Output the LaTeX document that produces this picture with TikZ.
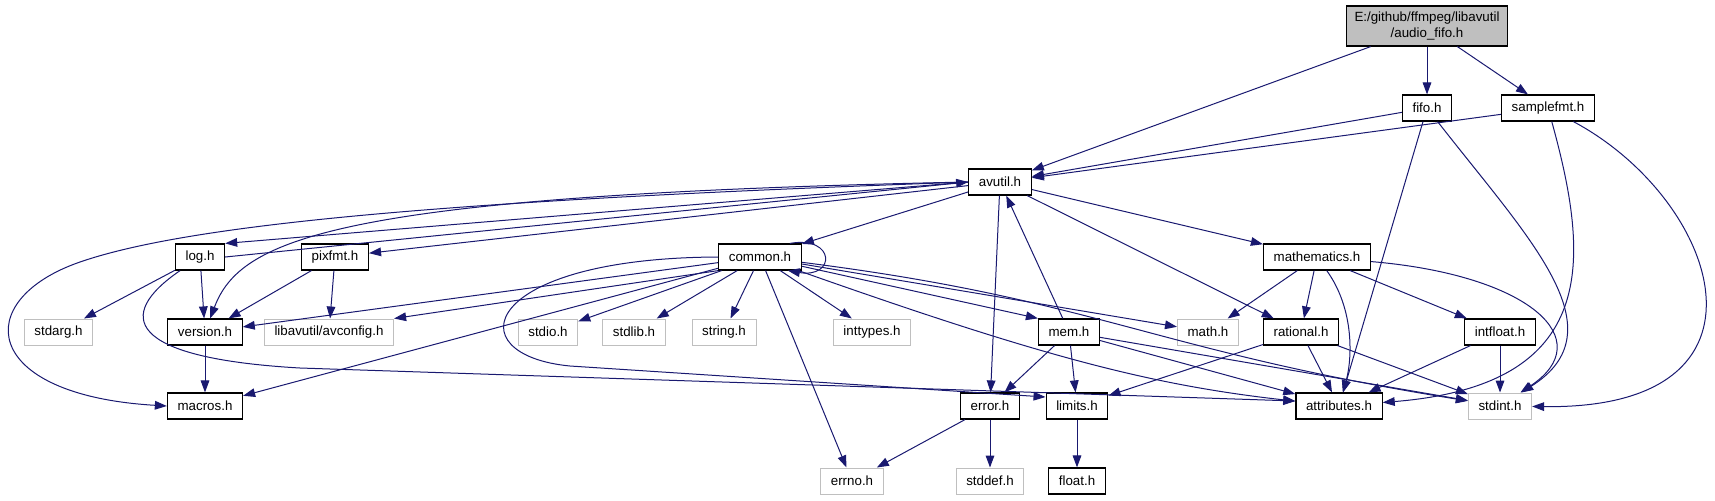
\documentclass[tikz,border=0pt]{standalone}
\usepackage{fontspec}
\setmainfont{Liberation Sans}
\usetikzlibrary{arrows.meta,calc}
\definecolor{incblue}{HTML}{191970}
\definecolor{sysgrey}{HTML}{BFBFBF}

\begin{document}
\begin{tikzpicture}[x=0.75pt,y=-0.75pt,font=\fontsize{10}{12}\selectfont,
   hdr/.style={draw=black,fill=white,line width=0.9pt,minimum height=19.5pt,
               inner xsep=7.6pt,inner ysep=2pt},
   sys/.style={hdr,draw=sysgrey,line width=0.75pt},
   inc/.style={draw=incblue,line width=0.75pt,-{Triangle[length=9pt,width=6.5pt]}}]
  \useasboundingbox (0,0) rectangle (1715,500);
  \node[hdr,fill=sysgrey,align=center,inner xsep=6pt,minimum height=30pt] (main) at (1427,26)
    {E:/github/ffmpeg/libavutil\\/audio\_fifo.h};
  \node[hdr] (fifo) at (1427,108) {fifo.h};
  \node[hdr] (samplefmt) at (1548,108) {samplefmt.h};
  \node[hdr] (avutil) at (1000,182) {avutil.h};
  \node[hdr] (log) at (200,257) {log.h};
  \node[hdr] (pixfmt) at (335,257) {pixfmt.h};
  \node[hdr] (common) at (760,257) {common.h};
  \node[hdr] (mathematics) at (1317,257) {mathematics.h};
  \node[sys] (stdarg) at (58.5,332) {stdarg.h};
  \node[hdr] (version) at (205,332) {version.h};
  \node[sys] (avconfig) at (329,332) {libavutil/avconfig.h};
  \node[sys] (stdio) at (548,332) {stdio.h};
  \node[sys] (stdlib) at (634,332) {stdlib.h};
  \node[sys] (string) at (724,332) {string.h};
  \node[sys] (inttypes) at (872,332) {inttypes.h};
  \node[hdr] (mem) at (1069,332) {mem.h};
  \node[sys] (math) at (1208,332) {math.h};
  \node[hdr] (rational) at (1301,332) {rational.h};
  \node[hdr] (intfloat) at (1500,332) {intfloat.h};
  \node[hdr] (macros) at (205,406) {macros.h};
  \node[hdr] (error) at (990,406) {error.h};
  \node[hdr] (limits) at (1077,406) {limits.h};
  \node[hdr] (attributes) at (1339,406) {attributes.h};
  \node[sys] (stdint) at (1500,406) {stdint.h};
  \node[sys] (errno) at (852,481) {errno.h};
  \node[sys] (stddef) at (990,481) {stddef.h};
  \node[hdr] (float) at (1077,481) {float.h};

  \draw[inc] (main) -- (avutil);
  \draw[inc] (main) -- (fifo);
  \draw[inc] (main) -- (samplefmt);
  \draw[inc] (fifo) -- (avutil);
  \draw[inc] (fifo) -- (attributes);
  \draw[inc] (fifo) .. controls (1530,240) and (1620,330) .. (stdint);
  \draw[inc] (samplefmt) -- (avutil);
  \draw[inc] (samplefmt) .. controls (1590,260) and (1600,385) .. (attributes);
  \draw[inc] (samplefmt) .. controls (1720,200) and (1790,410) .. (stdint);
  \draw[inc] (avutil.west) -- (log.north east);
  \draw[inc] (log.east) -- (avutil.west);
  \draw[inc] (avutil.west) .. controls (330,195) and (240,240) .. (version);
  \draw[inc] (avutil.west) .. controls (450,200) and (190,224) .. (80,262)
                           .. controls (-30,300) and (-20,395) .. (macros.west);
  \draw[inc] (avutil) -- (pixfmt);
  \draw[inc] (avutil) -- (common);
  \draw[inc] (avutil) -- (error);
  \draw[inc] (avutil) -- (mathematics);
  \draw[inc] (avutil) -- (rational);
  \draw[inc] (log) -- (stdarg);
  \draw[inc] (log) -- (version);
  \draw[inc] (log) .. controls (115,315) and (125,358) .. (300,368)
                   -- ($(attributes.west)+(0,-5)$);
  \draw[inc] (pixfmt) -- (version);
  \draw[inc] (pixfmt) -- (avconfig);
  \draw[inc] (version) -- (macros);
  \draw[inc] ($(common.north east)+(-12,0)$) .. controls +(46,-8) and +(48,8)
             .. ($(common.south east)+(-14,0)$);
  \draw[inc] (common) -- (version);
  \draw[inc] (common.south west) -- (avconfig.north east);
  \draw[inc] (common) -- (macros);
  \draw[inc] (common) -- (stdio);
  \draw[inc] (common) -- (stdlib);
  \draw[inc] (common) -- (string);
  \draw[inc] (common) -- (inttypes);
  \draw[inc] (common) -- (errno);
  \draw[inc] (common) -- (mem.north west);
  \draw[inc] (common) -- (math);
  \draw[inc] (common) .. controls (1040,356) and (1150,385) .. (attributes);
  \draw[inc] (common) .. controls (1100,300) and (1150,350) .. (stdint);
  \draw[inc] (common.west) .. controls (480,258) and (455,355) .. (570,366)
             -- ($(limits.west)+(0,-9)$);
  \draw[inc] (mem) -- (avutil);
  \draw[inc] (mem) -- (error);
  \draw[inc] (mem) -- (limits);
  \draw[inc] (mem) -- (attributes);
  \draw[inc] (mem) -- (stdint);
  \draw[inc] (error) -- (errno);
  \draw[inc] (error) -- (stddef);
  \draw[inc] (limits) -- (float);
  \draw[inc] (mathematics) -- (math);
  \draw[inc] (mathematics) -- (rational);
  \draw[inc] (mathematics) .. controls (1355,310) and (1352,360) .. (attributes);
  \draw[inc] (mathematics) -- (intfloat);
  \draw[inc] (mathematics) .. controls (1530,275) and (1600,340) .. (stdint);
  \draw[inc] (rational) -- (limits);
  \draw[inc] (rational) -- (attributes);
  \draw[inc] (rational) -- (stdint);
  \draw[inc] (intfloat) -- (attributes);
  \draw[inc] (intfloat) -- (stdint);
\end{tikzpicture}
\end{document}
